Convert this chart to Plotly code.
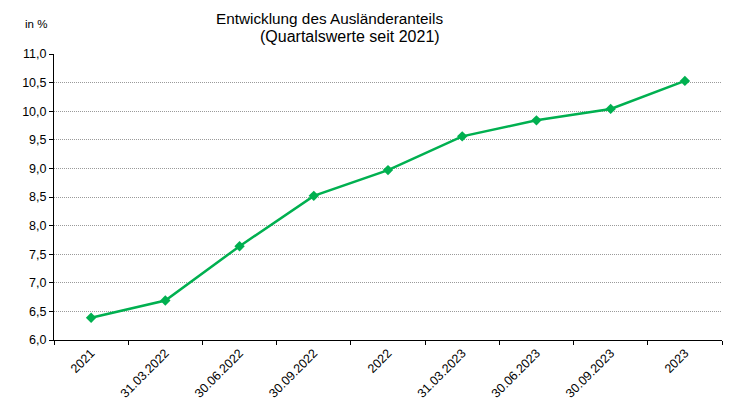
import plotly.graph_objects as go

categories = ["2021", "31.03.2022", "30.06.2022", "30.09.2022", "2022",
              "31.03.2023", "30.06.2023", "30.09.2023", "2023"]
values = [6.39, 6.69, 7.64, 8.52, 8.97, 9.56, 9.84, 10.04, 10.53]
y_ticks = [6.0, 6.5, 7.0, 7.5, 8.0, 8.5, 9.0, 9.5, 10.0, 10.5, 11.0]

fig = go.Figure()
fig.add_trace(go.Scatter(
    x=categories, y=values, mode="lines+markers",
    line=dict(color="#00B050", width=2.5),
    marker=dict(symbol="diamond", size=8, color="#00B050"),
    showlegend=False,
))

font_family = "Liberation Sans, Arial, sans-serif"
W, H = 742, 405
l, r, t, b = 54, 20, 54, 65
pw, ph = W - l - r, H - t - b


def px_to_paper(px, py):
    return (px - l) / pw, (H - b - py) / ph


ann_specs = [
    ("Entwicklung des Ausländeranteils", 329, 18, 15.3),
    ("(Quartalswerte seit 2021)", 350, 36, 16),
    ("in %", 35.5, 24, 11.5),
]
annotations = []
for text, px, py, size in ann_specs:
    x, y = px_to_paper(px, py)
    annotations.append(dict(text=text, x=x, y=y, xref="paper", yref="paper",
                            showarrow=False, xanchor="center", yanchor="middle",
                            font=dict(size=size, family=font_family, color="black")))

fig.update_layout(
    width=W, height=H,
    margin=dict(l=l, r=r, t=t, b=b, autoexpand=False),
    paper_bgcolor="white", plot_bgcolor="white",
    separators=",.",
    font=dict(family=font_family, size=12, color="black"),
    xaxis=dict(
        type="category", tickson="boundaries", ticks="outside", ticklen=4,
        tickcolor="black", showline=True, linecolor="black", linewidth=1,
        showgrid=False, tickangle=-45, tickfont=dict(size=12.5),
        range=[-0.5, 8.5], automargin=False,
    ),
    yaxis=dict(
        range=[6.0, 11.0], tickvals=y_ticks, tickformat=".1f",
        ticks="outside", ticklen=4, tickcolor="black",
        showline=True, linecolor="black", linewidth=1,
        showgrid=True, gridcolor="#9a9a9a", griddash="1px,1px", gridwidth=1,
        zeroline=False, tickfont=dict(size=12.5), automargin=False,
    ),
    annotations=annotations,
)

fig.write_html("out.html", config={"displayModeBar": False},
               post_script="document.body.style.margin='0';")
